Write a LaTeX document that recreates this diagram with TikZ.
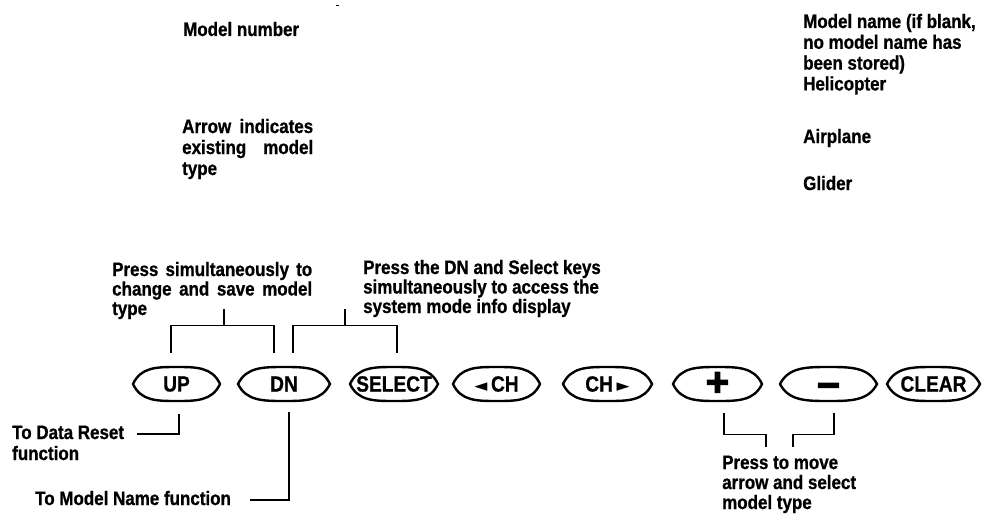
\documentclass[tikz,border=0pt]{standalone}
\usepackage{fontspec}
\setmainfont{Liberation Sans}[FakeStretch=0.87, BoldFeatures={FakeBold=0.8}]
\newfontfamily\symfont{DejaVu Sans}
\newfontfamily\heavyfont{Liberation Sans Bold}[FakeBold=3]
\usetikzlibrary{shapes.geometric}
\tikzset{
  lbl/.style={anchor=base west, inner sep=0pt, font=\bfseries\fontsize{19.5}{21}\selectfont},
  btn/.style={shape=ellipse, inner sep=0pt, minimum height=34pt, font=\bfseries\fontsize{22}{22}\selectfont},
  btnline/.style={line width=2.4pt},
  conn/.style={line width=1.1pt},
}
\begin{document}
\begin{tikzpicture}[x=1pt,y=-1pt]
\fill[white] (0,0) rectangle (984,519);
\useasboundingbox (0,0) rectangle (984,519);

% stray mark
\draw[line width=1pt] (336,6) -- (338.5,6);

% top labels
\node[lbl] (modelnum) at (183,36) {\parbox[t]{150pt}{Model number}};
\node[lbl] (arrowind) at (182,133) {\parbox[t]{131pt}{Arrow\hfill indicates\\existing\hfill model\\type}};
\node[lbl, font=\bfseries\fontsize{19.5}{20.8}\selectfont] (modelname) at (803,28) {\parbox[t]{180pt}{Model name (if blank,\\no model name has\\been stored)\\Helicopter}};
\node[lbl] (airplane) at (803,143) {\parbox[t]{150pt}{Airplane}};
\node[lbl] (glider) at (803,190) {\parbox[t]{150pt}{Glider}};

% annotation labels
\node[lbl, font=\bfseries\fontsize{19.5}{19.5}\selectfont] (presssim) at (112,276)
  {\parbox[t]{200pt}{\makebox[200pt][s]{Press simultaneously to}\\\makebox[200pt][s]{change and save model}\\type}};
\node[lbl, font=\bfseries\fontsize{19.5}{19.5}\selectfont] (pressdn) at (363,274)
  {\parbox[t]{260pt}{Press the DN and Select keys\\simultaneously to access the\\system mode info display}};
\node[lbl] (datareset) at (12,439) {\parbox[t]{130pt}{To Data Reset\\function}};
\node[lbl] (modelnamefn) at (35,505) {\parbox[t]{210pt}{To Model Name function}};
\node[lbl, font=\bfseries\fontsize{19.5}{20}\selectfont] (presstomove) at (722,469)
  {\parbox[t]{200pt}{Press to move\\arrow and select\\model type}};

% buttons
\node[btn, minimum width=87pt] (up) at (176.5,384) {UP};
\node[btn, minimum width=92pt] (dn) at (284,384) {DN};
\node[btn, minimum width=88pt] (sel) at (394,384) {SELECT};
\node[btn, minimum width=87pt] (chl) at (496.5,384) {{\symfont\fontsize{17}{17}\selectfont ◄}\,CH};
\node[btn, minimum width=89pt] (chr) at (607.5,384) {CH\,{\symfont\fontsize{17}{17}\selectfont ►}};
\node[btn, minimum width=89pt] (plus) at (717.5,384) {\heavyfont\fontsize{40}{40}\selectfont +};
\node[btn, minimum width=97pt] (minus) at (828.5,384) {\heavyfont\fontsize{40}{40}\selectfont\raisebox{-7pt}[\height][\depth]{−}};
\node[btn, minimum width=93pt] (clear) at (933.5,384) {CLEAR};

\foreach \n/\a in {up/43.5,dn/46,sel/44,chl/43.5,chr/44.5,plus/44.5,minus/48.5,clear/46.5}
  \draw[btnline, shift={(\n.center)}]
    (-\a,0) .. controls (-0.82*\a,-17) and (-0.45*\a,-17) .. (0,-17)
            .. controls (0.45*\a,-17) and (0.82*\a,-17) .. (\a,0)
            .. controls (0.82*\a,17) and (0.45*\a,17) .. (0,17)
            .. controls (-0.45*\a,17) and (-0.82*\a,17) .. (-\a,0) -- cycle;

% coordinates for free ends
\coordinate (b1) at (224,309);
\coordinate (b2) at (345,309);
\coordinate (drend) at (137,434);
\coordinate (mnend) at (250,500);
\coordinate (pm1) at (766,447);
\coordinate (pm2) at (793,447);

% top brackets
\draw[conn] ([xshift=-5.5pt,yshift=14pt]up.north) -- ++(0,-27) -| ([xshift=-10pt,yshift=14pt]dn.north);
\draw[conn] (b1) -- ++(0,17);
\draw[conn] ([xshift=9pt,yshift=14pt]dn.north) -- ++(0,-27) -| ([xshift=3pt,yshift=14pt]sel.north);
\draw[conn] (b2) -- ++(0,17);

% bottom connectors
\draw[conn] ([xshift=2.5pt,yshift=-13pt]up.south) |- (drend);
\draw[conn] ([xshift=5pt,yshift=-11pt]dn.south) |- (mnend);
\draw[conn] ([xshift=6.5pt,yshift=-12pt]plus.south) -- ++(0,21) -| (pm1);
\draw[conn] ([xshift=5.5pt,yshift=-12pt]minus.south) -- ++(0,21) -| (pm2);
\end{tikzpicture}
\end{document}
